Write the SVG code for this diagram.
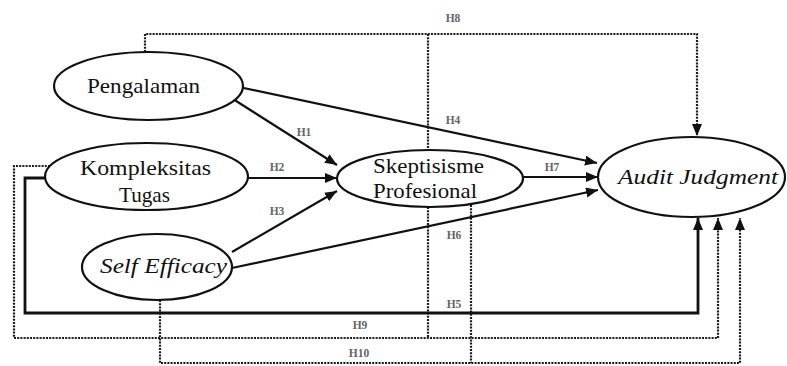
<svg xmlns="http://www.w3.org/2000/svg" width="787" height="366" viewBox="0 0 787 366">
  <defs>
    <marker id="arrow" markerUnits="userSpaceOnUse" markerWidth="13" markerHeight="11" refX="12" refY="5" orient="auto">
      <path d="M0,0 L12,5 L0,10 z" fill="#111"/>
    </marker>
    <style>
      .node ellipse { fill: #fff; stroke: #111; stroke-width: 2.2; }
      .node text { font-family: "Liberation Serif", "Times New Roman", serif; font-size: 22px; fill: #111; }
      .it { font-style: italic; }
      .solid { fill: none; stroke: #111; stroke-width: 2.2; }
      .thick { fill: none; stroke: #111; stroke-width: 2.8; }
      .dot { fill: none; stroke: #1a1a1a; stroke-width: 2.2; stroke-dasharray: 2 1.2; }
      .lbl { font-family: "Liberation Serif", "Times New Roman", serif; font-size: 11.5px; font-weight: bold; fill: #666; text-anchor: middle; }
    </style>
  </defs>
  <rect width="787" height="366" fill="#fff"/>

  <!-- connectors -->
  <g id="connectors">
    <!-- H8: Pengalaman to Audit Judgment via top line -->
    <path class="dot" d="M145,52 V34 H697 V136" marker-end="url(#arrow)"/>
    <!-- drop lines into/out of Skeptisisme Profesional -->
    <path class="dot" d="M428,34 V150"/>
    <path class="dot" d="M428,207 V338"/>
    <path class="dot" d="M471,205 V363"/>
    <!-- H9: Kompleksitas Tugas -->
    <path class="dot" d="M50,166 H14 V338 H718 V218" marker-end="url(#arrow)"/>
    <!-- H10: Self Efficacy -->
    <path class="dot" d="M160,300 V363 H740 V218" marker-end="url(#arrow)"/>
    <!-- H5: Kompleksitas Tugas to Audit Judgment -->
    <path class="thick" d="M45,178 H25 V313 H698 V218" marker-end="url(#arrow)"/>
    <!-- direct paths -->
    <path class="solid" d="M239,87 L597,163" marker-end="url(#arrow)"/>
    <path class="solid" d="M233,99 L337,165" marker-end="url(#arrow)"/>
    <path class="solid" d="M248,178 L337,178" marker-end="url(#arrow)"/>
    <path class="solid" d="M232,252 L337,191" marker-end="url(#arrow)"/>
    <path class="solid" d="M232,268 L598,190" marker-end="url(#arrow)"/>
    <path class="solid" d="M523,177 L598,177" marker-end="url(#arrow)"/>
  </g>

  <!-- hypothesis labels -->
  <g id="labels">
    <text class="lbl" x="453" y="22">H8</text>
    <text class="lbl" x="453" y="124">H4</text>
    <text class="lbl" x="304" y="136">H1</text>
    <text class="lbl" x="277" y="171">H2</text>
    <text class="lbl" x="277" y="215">H3</text>
    <text class="lbl" x="552" y="171">H7</text>
    <text class="lbl" x="454" y="239">H6</text>
    <text class="lbl" x="454" y="308">H5</text>
    <text class="lbl" x="360" y="329">H9</text>
    <text class="lbl" x="359" y="357">H10</text>
  </g>

  <g id="pengalaman" class="node">
    <ellipse cx="148.5" cy="86" rx="94.5" ry="34"/>
    <text x="87" y="93" textLength="113" lengthAdjust="spacingAndGlyphs">Pengalaman</text>
  </g>

  <g id="kompleksitas-tugas" class="node">
    <ellipse cx="146.5" cy="176.5" rx="101.5" ry="33.5"/>
    <text x="80" y="175" textLength="131" lengthAdjust="spacingAndGlyphs">Kompleksitas</text>
    <text x="119" y="202" textLength="51" lengthAdjust="spacingAndGlyphs">Tugas</text>
  </g>

  <g id="self-efficacy" class="node">
    <ellipse cx="157" cy="267" rx="75" ry="33"/>
    <text class="it" x="100" y="273" textLength="127" lengthAdjust="spacingAndGlyphs">Self Efficacy</text>
  </g>

  <g id="skeptisisme-profesional" class="node">
    <ellipse cx="430" cy="178.5" rx="93" ry="28.5"/>
    <text x="373" y="173" textLength="111" lengthAdjust="spacingAndGlyphs">Skeptisisme</text>
    <text x="373" y="198" textLength="104" lengthAdjust="spacingAndGlyphs">Profesional</text>
  </g>

  <g id="audit-judgment" class="node">
    <ellipse cx="691.5" cy="177" rx="93.5" ry="40"/>
    <text class="it" x="618" y="184" textLength="160" lengthAdjust="spacingAndGlyphs">Audit Judgment</text>
  </g>
</svg>
